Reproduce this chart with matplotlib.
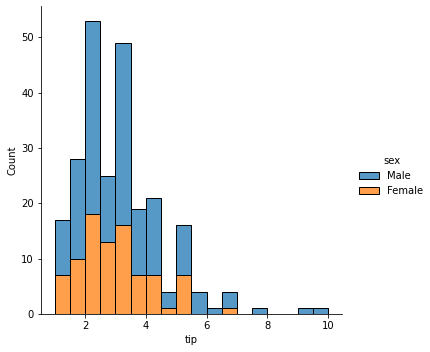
import numpy as np
import matplotlib
matplotlib.use('Agg')
import matplotlib.pyplot as plt

# tip histogram, bin width 0.5 from 1 to 10, stacked by sex
bin_left = np.arange(1.0, 10.0, 0.5)
female = [7, 10, 18, 13, 16, 7, 7, 1, 7, 0, 0, 1, 0, 0, 0, 0, 0, 0]
male = [10, 18, 35, 12, 33, 12, 14, 3, 9, 4, 1, 3, 0, 1, 0, 0, 1, 1]
labels = ['Male', 'Female']

blue = (31/255, 119/255, 180/255, 0.75)
orange = (255/255, 127/255, 14/255, 0.75)

fig = plt.figure(figsize=(430/72, 352/72), dpi=72)
ax = fig.add_axes([0.0953, 0.108, 0.7, 0.875])

h_f = ax.bar(bin_left, female, width=0.5, align='edge', color=orange,
             edgecolor='black', linewidth=1)
h_m = ax.bar(bin_left, male, width=0.5, align='edge', bottom=female,
             color=blue, edgecolor='black', linewidth=1)

ax.set_xlim(0.55, 10.45)
ax.set_ylim(0, 55.65)
ax.set_xticks([2, 4, 6, 8, 10])
ax.set_xlabel('tip')
ax.set_ylabel('Count')
ax.spines['top'].set_visible(False)
ax.spines['right'].set_visible(False)

fig.legend([h_m, h_f], labels, title='sex', loc='center left',
           bbox_to_anchor=(0.815, 0.5), frameon=False)

fig.savefig('out.png', dpi=72)
